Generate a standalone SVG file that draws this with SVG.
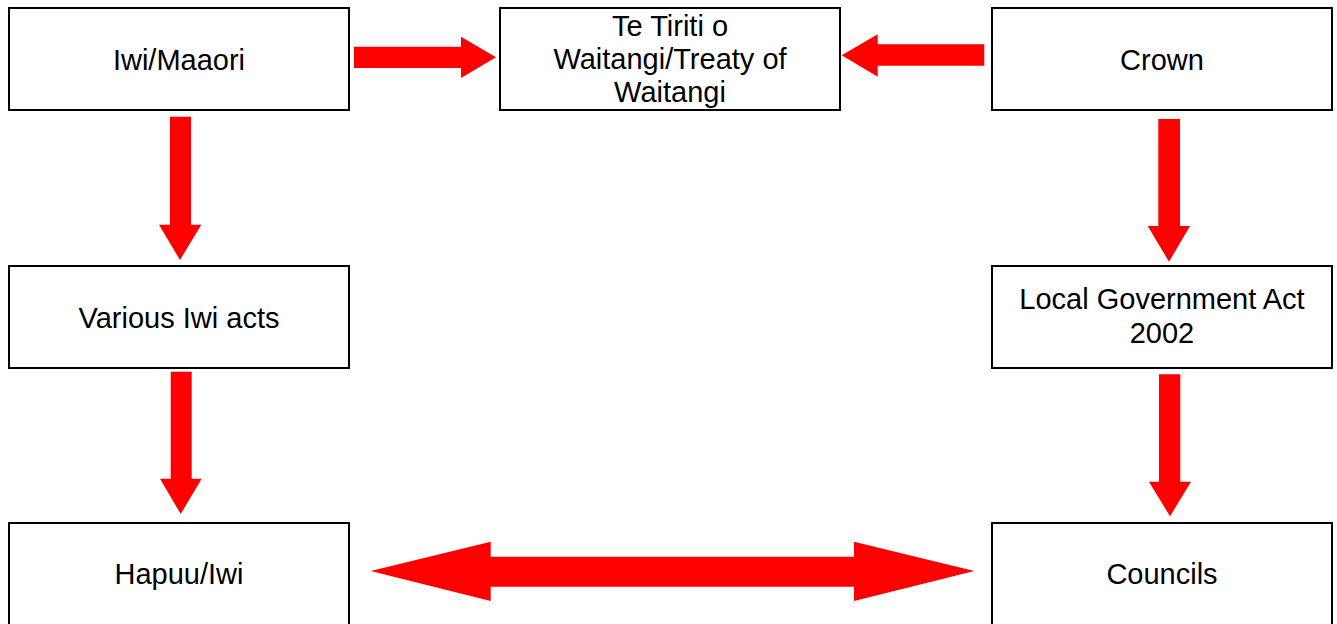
<svg xmlns="http://www.w3.org/2000/svg" width="1337" height="624" viewBox="0 0 1337 624">
  <style>
    .box { fill: #ffffff; stroke: #000000; stroke-width: 2; }
    .lbl { font-family: "Liberation Sans", Arial, sans-serif; font-size: 29px; fill: #000000; text-anchor: middle; }
    .arrow { fill: #ff0000; stroke: none; }
  </style>
  <rect width="1337" height="624" fill="#ffffff"/>

  <!-- connectors: block arrows -->
  <g id="connectors">
    <!-- Iwi/Maaori to Treaty -->
    <polygon class="arrow" points="354,46.7 461,46.7 461,36.7 496,57.3 461,78 461,68 354,68"/>
    <!-- Crown to Treaty -->
    <polygon class="arrow" points="984.3,44.3 877.7,44.3 877.7,34.3 841.7,55.3 877.7,76.7 877.7,65.7 984.3,65.7"/>
    <!-- Iwi/Maaori to Various Iwi acts -->
    <polygon class="arrow" points="170,116.7 191,116.7 191,224.7 201.3,224.7 180,260 159,224.7 170,224.7"/>
    <!-- Various Iwi acts to Hapuu/Iwi -->
    <polygon class="arrow" points="170.7,371.7 191.7,371.7 191.7,478.7 201.7,478.7 180.7,514 160,478.7 170.7,478.7"/>
    <!-- Crown to Local Government Act -->
    <polygon class="arrow" points="1158.3,119 1180,119 1180,226 1190,226 1169,261.7 1147.7,226 1158.3,226"/>
    <!-- Local Government Act to Councils -->
    <polygon class="arrow" points="1159,374.3 1180.3,374.3 1180.3,481.7 1191,481.7 1170,516.3 1149,481.7 1159,481.7"/>
    <!-- Hapuu/Iwi and Councils, two-way -->
    <polygon class="arrow" points="370.7,571 490.7,541.7 490.7,556.7 854,556.7 854,541.7 974.3,571 854,601 854,586.7 490.7,586.7 490.7,601"/>
  </g>

  <g id="node-iwi-maaori">
    <rect class="box" x="9" y="8" width="340" height="102"/>
    <text class="lbl" x="179" y="70.3">Iwi/Maaori</text>
  </g>

  <g id="node-treaty">
    <rect class="box" x="500" y="8" width="340" height="102"/>
    <text class="lbl" x="670" y="36">Te Tiriti o</text>
    <text class="lbl" x="670" y="69">Waitangi/Treaty of</text>
    <text class="lbl" x="670" y="102">Waitangi</text>
  </g>

  <g id="node-crown">
    <rect class="box" x="992" y="8" width="340" height="102"/>
    <text class="lbl" x="1162" y="70.3">Crown</text>
  </g>

  <g id="node-various-iwi-acts">
    <rect class="box" x="9" y="266" width="340" height="102"/>
    <text class="lbl" x="179" y="327.7">Various Iwi acts</text>
  </g>

  <g id="node-local-government-act">
    <rect class="box" x="992" y="266" width="340" height="102"/>
    <text class="lbl" x="1162" y="309.3">Local Government Act</text>
    <text class="lbl" x="1162" y="342.7">2002</text>
  </g>

  <g id="node-hapuu-iwi">
    <rect class="box" x="9" y="523" width="340" height="110"/>
    <text class="lbl" x="179" y="584">Hapuu/Iwi</text>
  </g>

  <g id="node-councils">
    <rect class="box" x="992" y="523" width="340" height="110"/>
    <text class="lbl" x="1162" y="584.3">Councils</text>
  </g>
</svg>
